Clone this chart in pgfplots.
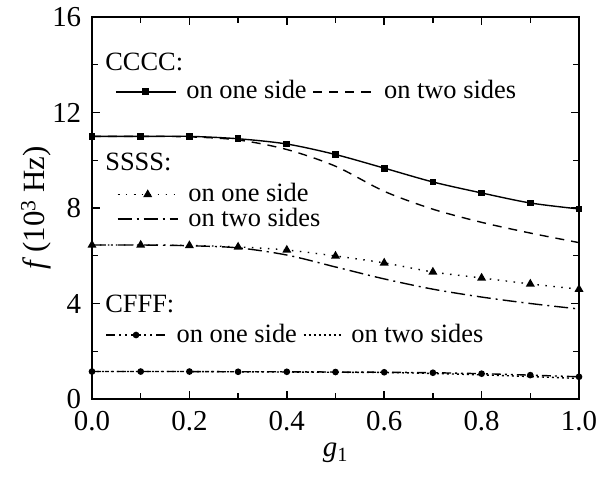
\documentclass[border=0pt]{standalone}
\usepackage{fontspec}
\setmainfont{Liberation Serif}
\usepackage{pgfplots}
\pgfplotsset{compat=1.18}

\newcommand{\legf}{\fontsize{26.5}{28}\selectfont}
\newcommand{\tickf}{\fontsize{29}{31}\selectfont}
\newcommand{\labf}{\fontsize{31}{33}\selectfont}

\pgfplotsset{
  base/.style={
    scale only axis, width=487bp, height=382bp,
    xmin=0, xmax=1, ymin=0, ymax=16,
  },
  leg/.style={
    legend style={draw=none, fill=none, inner sep=0pt, font=\legf,
      row sep=-2pt,
      /tikz/every odd column/.append style={column sep=8bp},
      /tikz/every even column/.append style={column sep=4bp}},
    legend cell align=left,
    legend image code/.code={
      \draw[mark repeat=2,mark phase=2,##1] plot coordinates {(0bp,0bp) (30bp,0bp) (60bp,0bp)};},
  },
  shortleg/.style={legend image code/.code={\draw[##1] (0bp,0bp) -- (37bp,0bp);}},
  s1/.style={black, line width=1.4pt, smooth, mark=square*, mark size=2.7bp, mark options={solid}},
  s2/.style={black, line width=1.4pt, smooth, dash pattern=on 9bp off 7bp},
  s3/.style={black, line width=1.4pt, smooth, dash pattern=on 1.5bp off 6.5bp, mark=triangle*, mark size=3.8bp, mark options={solid}},
  s4/.style={black, line width=1.4pt, smooth, dash pattern=on 14bp off 5bp on 2bp off 5bp},
  s5/.style={black, line width=1.4pt, smooth, dash pattern=on 9bp off 4bp on 2bp off 4bp on 2bp off 4bp, mark=*, mark size=2.6bp, mark options={solid}},
  s6/.style={black, line width=1.4pt, smooth, dash pattern=on 2bp off 3bp},
}

\begin{document}
\tickf
\begin{tikzpicture}
\begin{axis}[
  base, leg,
  axis line style={line width=2pt},
  major tick style={line width=1.6pt, black},
  minor tick style={line width=1.4pt, black},
  major tick length=8bp, minor tick length=6bp,
  xtick={0,0.2,...,1.0}, minor x tick num=1,
  ytick={0,4,8,12,16}, minor y tick num=1,
  tick align=inside,
  /pgf/number format/assume math mode=true,
  tick label style={font=\tickf},
  xticklabel style={/pgf/number format/fixed, /pgf/number format/fixed zerofill,
    /pgf/number format/precision=1, yshift=-2bp},
  yticklabel style={xshift=-1bp},
  xlabel={\textit{g}\textsubscript{1}},
  ylabel={\textit{f}\,(10\textsuperscript{3} Hz)},
  xlabel style={font=\tickf, yshift=7bp},
  ylabel style={font=\labf, yshift=-18bp},
  legend columns=2,
  legend style={at={(0.047,0.804)}, anchor=west},
  clip=false,
]
\addplot[s1] coordinates {(0,11.0) (0.1,11.0) (0.2,11.0) (0.3,10.9) (0.4,10.68) (0.5,10.24) (0.6,9.67) (0.7,9.09) (0.8,8.63) (0.9,8.21) (1.0,7.96)};
\addlegendentry{on one side}
\addplot[s2] coordinates {(0,11.0) (0.1,11.0) (0.2,10.98) (0.3,10.85) (0.4,10.45) (0.5,9.75) (0.6,8.7) (0.7,7.95) (0.8,7.4) (0.9,6.95) (1.0,6.55)};
\addlegendentry{on two sides}
\addplot[s3, forget plot] coordinates {(0,6.45) (0.1,6.45) (0.2,6.43) (0.3,6.37) (0.4,6.24) (0.5,5.99) (0.6,5.7) (0.7,5.32) (0.8,5.07) (0.9,4.82) (1.0,4.6)};
\addplot[s4, forget plot] coordinates {(0,6.45) (0.1,6.45) (0.2,6.42) (0.3,6.33) (0.4,6.03) (0.5,5.53) (0.6,5.03) (0.7,4.6) (0.8,4.27) (0.9,4.0) (1.0,3.77)};
\addplot[s5, forget plot] coordinates {(0,1.15) (0.1,1.15) (0.2,1.15) (0.3,1.14) (0.4,1.14) (0.5,1.13) (0.6,1.12) (0.7,1.1) (0.8,1.06) (0.9,1.0) (1.0,0.93)};
\addplot[s6, forget plot] coordinates {(0,1.15) (0.1,1.15) (0.2,1.15) (0.3,1.14) (0.4,1.13) (0.5,1.12) (0.6,1.11) (0.7,1.07) (0.8,1.01) (0.9,0.94) (1.0,0.86)};
\node[anchor=west, inner sep=0pt, font=\legf] at (axis cs:0.027,14.1) {CCCC:};
\node[anchor=west, inner sep=0pt, font=\legf] at (axis cs:0.027,9.93) {SSSS:};
\node[anchor=west, inner sep=0pt, font=\legf] at (axis cs:0.027,4.0) {CFFF:};
\end{axis}
\begin{axis}[base, leg, hide axis, legend columns=1,
  legend style={at={(0.051,0.503)}, anchor=west}]
\addlegendimage{s3}
\addlegendentry{on one side}
\addlegendimage{s4}
\addlegendentry{on two sides}
\end{axis}
\begin{axis}[base, leg, hide axis, legend columns=2,
  legend style={at={(0.027,0.1675)}, anchor=west}]
\addlegendimage{s5}
\addlegendentry{on one side}
\addlegendimage{s6, shortleg}
\addlegendentry{on two sides}
\end{axis}
\pgfresetboundingbox
\path[use as bounding box] (-92bp,-80bp) rectangle (506bp,399bp);
\end{tikzpicture}
\end{document}
